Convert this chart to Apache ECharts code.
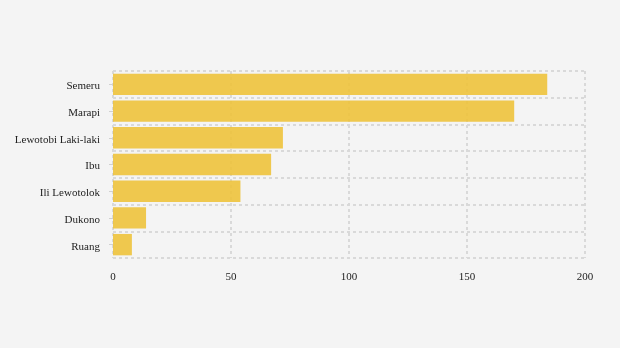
<!DOCTYPE html>
<html>
<head>
<meta charset="utf-8">
<script src="https://cdn.jsdelivr.net/npm/echarts@6/dist/echarts.min.js"></script>
<style>html,body{margin:0;padding:0;background:#f4f4f4;}#c{width:620px;height:348px;}</style>
</head>
<body>
<div id="c"></div>
<script>
const categories = ["Semeru", "Marapi", "Lewotobi Laki-laki", "Ibu", "Ili Lewotolok", "Dukono", "Ruang"];
const values = [184, 170, 72, 67, 54, 14, 8];
const xTicks = [0, 50, 100, 150, 200];

const chart = echarts.init(document.getElementById('c'), null, {renderer: 'canvas'});
chart.setOption({
  backgroundColor: '#f4f4f4',
  animation: false,
  textStyle: {fontFamily: 'Liberation Serif'},
  grid: {left: 113, right: 35, top: 71, bottom: 90, containLabel: false},
  xAxis: {
    type: 'value', min: xTicks[0], max: xTicks[xTicks.length - 1], interval: 50,
    axisLine: {show: false}, axisTick: {show: false},
    axisLabel: {color: '#222', fontSize: 11, margin: 14, fontFamily: 'Liberation Serif'},
    splitLine: {show: true, lineStyle: {color: '#d9d9d9', type: [3, 3], width: 2}}
  },
  yAxis: {
    type: 'category', data: categories, inverse: true,
    axisLine: {show: false},
    axisTick: {show: true, length: 4, alignWithLabel: true, lineStyle: {color: '#d0d0d0'}},
    axisLabel: {
      color: '#222', fontSize: 11, margin: 13, fontFamily: 'Liberation Serif',
      formatter: function (v) { return '{a|' + v + '}'; },
      rich: {a: {color: '#222', fontSize: 11, fontFamily: 'Liberation Serif', padding: [4, 0, 0, 0]}}
    },
    splitLine: {show: true, lineStyle: {color: '#d9d9d9', type: [3, 3], width: 2}}
  },
  series: [{
    type: 'bar', data: values, barCategoryGap: '20%',
    itemStyle: {color: '#eec33f', opacity: 0.92}
  }]
});
</script>
</body>
</html>
